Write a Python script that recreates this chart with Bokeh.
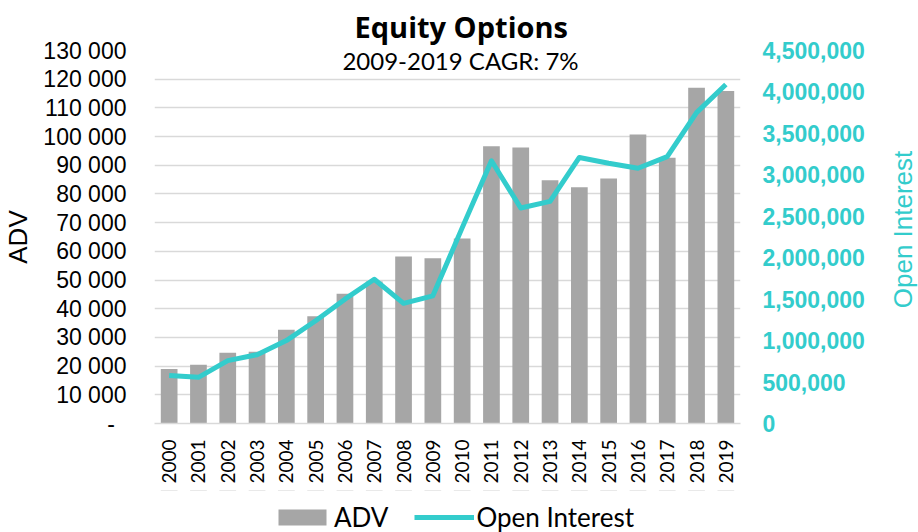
import math
from bokeh.plotting import figure
from bokeh.layouts import column, row
from bokeh.models import (ColumnDataSource, LinearAxis, Range1d, FixedTicker,
                          NumeralTickFormatter, Legend, LegendItem, Label)
from bokeh.embed import file_html
from bokeh.resources import INLINE

# ---- data ----
years = ["2000", "2001", "2002", "2003", "2004", "2005", "2006", "2007", "2008", "2009",
         "2010", "2011", "2012", "2013", "2014", "2015", "2016", "2017", "2018", "2019"]
adv = [19000, 20500, 24700, 25000, 32700, 37400, 45200, 49500, 58200, 57600,
       64500, 96600, 96200, 84800, 82300, 85400, 100700, 92600, 117000, 115900]
open_interest = [578000, 557000, 758000, 830000, 1000000, 1240000, 1500000, 1740000, 1450000, 1540000,
                 2360000, 3170000, 2600000, 2680000, 3210000, 3140000, 3080000, 3220000, 3750000, 4090000]

left_ticks = [0, 10000, 20000, 30000, 40000, 50000, 60000, 70000, 80000, 90000,
              100000, 110000, 120000, 130000]
left_tick_labels = ["-\u2002", "10 000", "20 000", "30 000", "40 000", "50 000", "60 000",
                    "70 000", "80 000", "90 000", "100 000", "110 000", "120 000", "130 000"]
right_ticks = [0, 500000, 1000000, 1500000, 2000000, 2500000, 3000000, 3500000, 4000000, 4500000]

series_names = ["ADV", "Open Interest"]
title_text = "Equity Options"
subtitle_text = "2009-2019 CAGR: 7%"

TEAL = "#33CCCC"
GRAY = "#A6A6A6"
GRID = "#D9D9D9"

src = ColumnDataSource(dict(year=years, adv=adv, oi=open_interest))

p = figure(x_range=years, y_range=Range1d(0, 130000), width=888, height=490,
           output_backend="svg", toolbar_location=None,
           min_border_left=145, min_border_right=148, min_border_top=49, min_border_bottom=67)
p.extra_y_ranges = {"oi": Range1d(0, 4500000)}
p.outline_line_color = None
p.background_fill_color = "white"

bars = p.vbar(x="year", top="adv", width=0.57, source=src, fill_color=GRAY, line_color=None)
line = p.line(x="year", y="oi", source=src, y_range_name="oi", line_width=5,
              line_color=TEAL, line_join="round")

# title
p.title.text = title_text
p.title.align = "left"
p.title.offset = 200
p.title.text_font = "Open Sans"
p.title.text_font_style = "bold"
p.title.text_font_size = "29px"
p.title.text_color = "#000000"
p.title.standoff = 9

# grid
p.xgrid.grid_line_color = None
p.ygrid.grid_line_color = GRID
p.ygrid.grid_line_width = 1.5
p.ygrid.ticker = FixedTicker(ticks=left_ticks)

# left axis
ya = p.yaxis[0]
ya.ticker = FixedTicker(ticks=left_ticks)
ya.major_label_overrides = {t: l for t, l in zip(left_ticks, left_tick_labels)}
ya.axis_line_color = None
ya.major_tick_line_color = None
ya.minor_tick_line_color = None
ya.major_tick_out = 0
ya.major_tick_in = 0
ya.major_label_standoff = 28
ya.major_label_text_font = "Liberation Sans"
ya.major_label_text_font_size = "23px"
ya.major_label_text_color = "#000000"
ya.axis_label = series_names[0]
ya.axis_label_standoff = 7
ya.axis_label_text_font = "Liberation Sans"
ya.axis_label_text_font_style = "normal"
ya.axis_label_text_font_size = "26px"
ya.axis_label_text_color = "#000000"

# right axis (its title is drawn in the narrow strip to the right)
ra = LinearAxis(y_range_name="oi", ticker=FixedTicker(ticks=right_ticks),
                formatter=NumeralTickFormatter(format="0,0"))
ra.axis_line_color = None
ra.major_tick_line_color = None
ra.minor_tick_line_color = None
ra.major_tick_out = 0
ra.major_tick_in = 0
ra.major_label_standoff = 22
ra.major_label_text_font = "Liberation Sans"
ra.major_label_text_font_style = "bold"
ra.major_label_text_font_size = "23px"
ra.major_label_text_color = TEAL
p.add_layout(ra, "right")

# x axis
xa = p.xaxis[0]
xa.axis_line_color = GRID
xa.axis_line_width = 1.5
xa.major_tick_line_color = None
xa.minor_tick_line_color = None
xa.major_tick_out = 0
xa.major_tick_in = 0
xa.major_label_standoff = 16
xa.major_label_orientation = math.pi / 2
xa.major_label_text_font = "Lato"
xa.major_label_text_font_size = "19px"
xa.major_label_text_color = "#000000"

# subtitle (inside the plot area)
p.add_layout(Label(x=306, y=363, x_units="screen", y_units="screen", text=subtitle_text,
                   text_align="center", text_baseline="middle",
                   text_font="Lato", text_font_size="24px", text_color="#000000"))

# ---- legend strip (its marks fall outside its visible range) ----
lg = figure(x_range=years, y_range=Range1d(-200, -199), width=888, height=42,
            output_backend="svg", toolbar_location=None,
            x_axis_type=None, y_axis_type=None,
            min_border_left=0, min_border_right=0, min_border_top=0, min_border_bottom=0)
lg.grid.visible = False
lg.outline_line_color = None
lb = lg.vbar(x=years, top=adv, width=0.57, fill_color=GRAY, line_color=None)
ll = lg.line(x=years, y=open_interest, line_width=5, line_color=TEAL)
legend = Legend(items=[LegendItem(label=series_names[0], renderers=[lb]),
                       LegendItem(label=series_names[1], renderers=[ll])],
                orientation="horizontal", location=(118, -1),
                glyph_width=60, glyph_height=20, label_standoff=2, spacing=26,
                padding=0, margin=0, border_line_color=None, background_fill_alpha=0,
                label_text_font="Lato", label_text_font_size="26px", label_text_color="#000000")
lg.add_layout(legend)

# ---- right-hand strip holding the secondary axis title ----
rf = figure(width=30, height=532, x_range=Range1d(0, 1), y_range=Range1d(0, 1),
            output_backend="svg", toolbar_location=None,
            x_axis_type=None, y_axis_type=None,
            min_border_left=0, min_border_right=0, min_border_top=49, min_border_bottom=109)
rf.grid.visible = False
rf.outline_line_color = None
rf.add_layout(Label(x=14, y=194, x_units="screen", y_units="screen", text=series_names[1],
                    angle=math.pi / 2, text_align="center", text_baseline="middle",
                    text_font="Liberation Sans", text_font_size="26px", text_color=TEAL))

layout = row(column(p, lg, spacing=0), rf, spacing=0)
open("out.html", "w").write(file_html(layout, INLINE))
